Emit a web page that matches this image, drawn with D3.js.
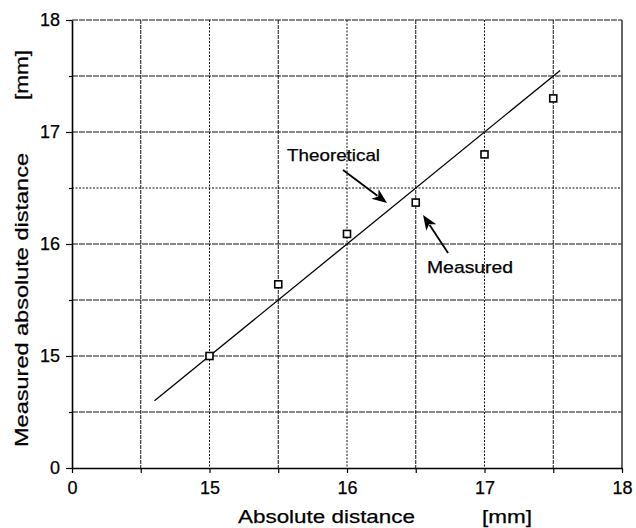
<!DOCTYPE html>
<html>
<head>
<meta charset="utf-8">
<script src="https://cdn.jsdelivr.net/npm/d3@7"></script>
<style>
  body { margin: 0; background: #fff; }
  svg { display: block; font-family: "Liberation Sans", Arial, sans-serif; }
  text { stroke: #000; stroke-width: 0.25px; }
</style>
</head>
<body>
<svg id="chart"></svg>
<script>
// measured points
var absDistance = [15, 15.5, 16, 16.5, 17, 17.5];
var measuredDistance = [15.0, 15.64, 16.09, 16.37, 16.8, 17.3];

// theoretical line (y = x)
var theoX = [14.6, 17.55];
var theoY = [14.6, 17.55];

// axis ticks (broken axis: the first tick is labelled 0)
var majorTicks = [14, 15, 16, 17, 18];
var tickLabels = ["0", "15", "16", "17", "18"];
var gridValues = [14.5, 15, 15.5, 16, 16.5, 17, 17.5];

var dim = { width: 636, height: 528 };
var margin = { left: 72, right: 14, top: 20, bottom: 60 };

var svg = d3.select("#chart")
    .attr("width", dim.width)
    .attr("height", dim.height);

var xScale = d3.scaleLinear()
    .domain([14, 18])
    .range([margin.left, dim.width - margin.right]);

var yScale = d3.scaleLinear()
    .domain([14, 18])
    .range([dim.height - margin.bottom, margin.top]);

var allTicks = d3.range(14, 18.01, 0.5);
var fmt = function(d) {
    var i = majorTicks.indexOf(d);
    return i >= 0 ? tickLabels[i] : "";
};

// grid
var grid = svg.append("g");
grid.selectAll(".vgrid")
    .data(gridValues).enter()
    .append("line")
    .attr("x1", d => xScale(d)).attr("x2", d => xScale(d))
    .attr("y1", yScale(18)).attr("y2", yScale(14))
    .attr("stroke", "#111")
    .attr("stroke-width", 1)
    .attr("stroke-dasharray", d => (d * 2) % 2 == 0 ? "2,1.5" : "4,1");

grid.selectAll(".hgrid")
    .data(gridValues).enter()
    .append("line")
    .attr("y1", d => yScale(d)).attr("y2", d => yScale(d))
    .attr("x1", xScale(14)).attr("x2", xScale(18))
    .attr("stroke", "#111")
    .attr("stroke-width", d => d == 16.5 ? 1 : 1.2)
    .attr("stroke-dasharray", d => d == 16.5 ? "2,1.5" : "6,1");

// top and right border
grid.append("line")
    .attr("x1", xScale(14)).attr("x2", xScale(18))
    .attr("y1", yScale(18)).attr("y2", yScale(18))
    .attr("stroke", "#111").attr("stroke-width", 1.2).attr("stroke-dasharray", "6,1");
grid.append("line")
    .attr("x1", xScale(18)).attr("x2", xScale(18))
    .attr("y1", yScale(18)).attr("y2", yScale(14))
    .attr("stroke", "#333").attr("stroke-width", 1.5);

// axes
var xAxis = svg.append("g")
    .attr("transform", "translate(0," + yScale(14) + ")")
    .call(d3.axisBottom(xScale).tickValues(allTicks).tickFormat(fmt).tickSize(5).tickSizeOuter(0));

var yAxis = svg.append("g")
    .attr("transform", "translate(" + xScale(14) + ",0)")
    .call(d3.axisLeft(yScale).tickValues(allTicks).tickFormat(fmt).tickSize(6).tickSizeOuter(0));

[xAxis, yAxis].forEach(function(ax) {
    ax.select(".domain").attr("stroke", "#000").attr("stroke-width", 1.6);
    ax.selectAll(".tick line").attr("stroke", "#000").attr("stroke-width", 1.2);
    ax.selectAll(".tick text")
        .attr("fill", "#000")
        .style("font-size", "18px")
        .style("font-family", "Liberation Sans, Arial, sans-serif");
});
xAxis.selectAll(".tick text").attr("y", 13);
yAxis.selectAll(".tick text").attr("x", -12);
yAxis.selectAll(".tick line").attr("x2", d => majorTicks.indexOf(d) >= 0 ? -6 : -3);

// theoretical line
var line = d3.line()
    .x(d => xScale(d[0]))
    .y(d => yScale(d[1]));

svg.append("path")
    .datum(d3.zip(theoX, theoY))
    .attr("d", line)
    .attr("fill", "none")
    .attr("stroke", "#000")
    .attr("stroke-width", 1.3);

// measured squares
svg.append("g")
    .selectAll("rect")
    .data(d3.zip(absDistance, measuredDistance)).enter()
    .append("rect")
    .attr("x", d => xScale(d[0]) - 3.5)
    .attr("y", d => yScale(d[1]) - 3.5)
    .attr("width", 7)
    .attr("height", 7)
    .attr("fill", "#fff")
    .attr("stroke", "#000")
    .attr("stroke-width", 1.6);

// annotations
var notes = [
    { label: "Theoretical", tx: 15.564, ty: 16.74, len: 93, from: [15.971, 16.661], to: [16.291, 16.366] },
    { label: "Measured", tx: 16.582, ty: 15.74, len: 86, from: [16.735, 15.92], to: [16.553, 16.259] }
];

notes.forEach(function(n) {
    svg.append("text")
        .attr("x", xScale(n.tx))
        .attr("y", yScale(n.ty))
        .attr("textLength", n.len)
        .attr("lengthAdjust", "spacingAndGlyphs")
        .style("font-size", "17px")
        .text(n.label);

    var x1 = xScale(n.from[0]), y1 = yScale(n.from[1]);
    var x2 = xScale(n.to[0]), y2 = yScale(n.to[1]);
    var ang = Math.atan2(y2 - y1, x2 - x1);
    var hl = 15, hw = 6;
    var bx = x2 - hl * Math.cos(ang), by = y2 - hl * Math.sin(ang);
    svg.append("line")
        .attr("x1", x1).attr("y1", y1)
        .attr("x2", bx + 3 * Math.cos(ang)).attr("y2", by + 3 * Math.sin(ang))
        .attr("stroke", "#000").attr("stroke-width", 1.8);
    var pts = [
        [x2, y2],
        [bx + hw * Math.sin(ang), by - hw * Math.cos(ang)],
        [bx + 4 * Math.cos(ang), by + 4 * Math.sin(ang)],
        [bx - hw * Math.sin(ang), by + hw * Math.cos(ang)]
    ];
    svg.append("path")
        .attr("d", "M" + pts.join("L") + "Z")
        .attr("fill", "#000");
});

// axis titles
svg.append("text")
    .attr("x", 238).attr("y", 523)
    .attr("textLength", 177).attr("lengthAdjust", "spacingAndGlyphs")
    .style("font-size", "19px")
    .text("Absolute distance");
svg.append("text")
    .attr("x", 482).attr("y", 523)
    .attr("textLength", 50).attr("lengthAdjust", "spacingAndGlyphs")
    .style("font-size", "19px")
    .text("[mm]");

svg.append("text")
    .attr("transform", "translate(28,447) rotate(-90)")
    .attr("textLength", 294).attr("lengthAdjust", "spacingAndGlyphs")
    .style("font-size", "19px")
    .text("Measured  absolute distance");
svg.append("text")
    .attr("transform", "translate(28,100) rotate(-90)")
    .attr("textLength", 50).attr("lengthAdjust", "spacingAndGlyphs")
    .style("font-size", "19px")
    .text("[mm]");
</script>
</body>
</html>
